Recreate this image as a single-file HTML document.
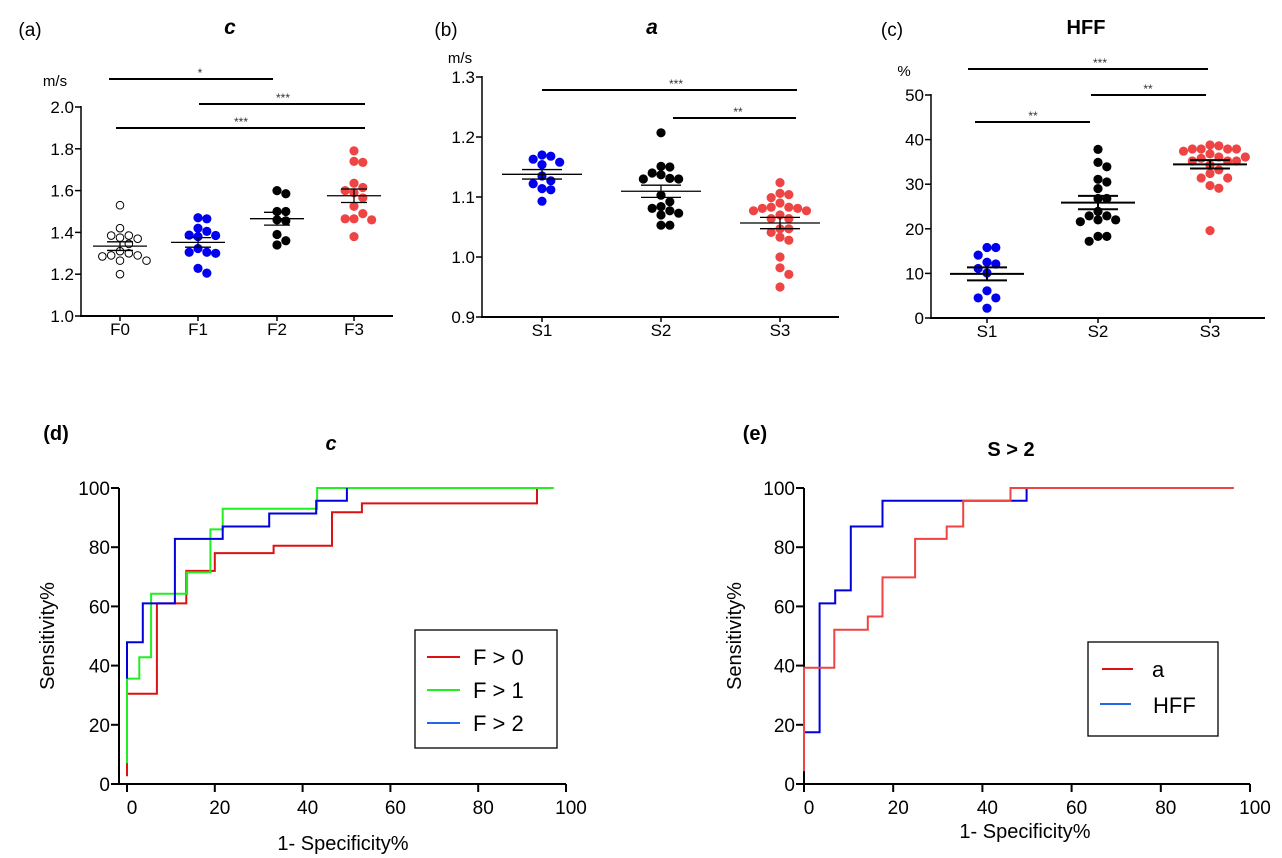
<!DOCTYPE html>
<html><head><meta charset="utf-8">
<style>
html,body{margin:0;padding:0;background:#fff;}
svg{display:block;font-family:"Liberation Sans",Arial,sans-serif;}
</style></head>
<body>
<svg id="fig" width="1282" height="858" viewBox="0 0 1282 858"></svg>
<script>
// ---------- data ----------
const catsA = ["F0","F1","F2","F3"];
const aF0 = [1.53,1.42,1.385,1.37,1.375,1.385,1.345,1.31,1.30,1.285,1.29,1.29,1.265,1.265,1.20];
const aF1 = [1.47,1.465,1.42,1.405,1.387,1.38,1.385,1.323,1.305,1.30,1.305,1.228,1.205];
const aF2 = [1.60,1.585,1.50,1.50,1.46,1.455,1.39,1.36,1.34];
const aF3 = [1.79,1.735,1.74,1.635,1.615,1.60,1.59,1.565,1.525,1.49,1.465,1.46,1.465,1.38];
const ticksA = [1.0,1.2,1.4,1.6,1.8,2.0];

const catsB = ["S1","S2","S3"];
const bS1 = [1.17,1.168,1.163,1.158,1.154,1.135,1.127,1.122,1.114,1.112,1.093];
const bS2 = [1.207,1.15,1.151,1.14,1.137,1.13,1.131,1.13,1.103,1.092,1.084,1.081,1.077,1.073,1.07,1.053,1.053];
const bS3 = [1.124,1.106,1.104,1.099,1.09,1.083,1.083,1.081,1.081,1.077,1.077,1.07,1.064,1.064,1.047,1.047,1.041,1.033,1.028,1.0,0.982,0.971,0.95];
const ticksB = [0.9,1.0,1.1,1.2,1.3];

const catsC = ["S1","S2","S3"];
const cS1 = [15.8,15.8,14.1,12.5,12.1,11.1,10.1,6.1,4.5,4.5,2.2];
const cS2 = [37.8,34.9,33.9,31.1,30.5,29,26.8,26.8,23.9,22.9,22.9,22,22,21.6,18.3,18.3,17.2];
const cS3 = [38.8,38.6,37.9,37.9,37.9,37.9,37.4,36.8,36.1,36.1,35.8,35.2,35.2,35.2,34.3,33.2,32.4,31.4,31.4,29.7,29.1,19.6];
const ticksC = [0,10,20,30,40,50];

// ROC step vertices [1-spec%, sens%]
const rocF0 = [[0,2.6],[0,30.5],[6.8,30.5],[6.8,61],[13.5,61],[13.5,72],[20,72],[20,78],[33.4,78],[33.4,80.5],[46.7,80.5],[46.7,91.8],[53.5,91.8],[53.5,94.8],[93.4,94.8],[93.4,100]];
const rocF1 = [[0,7],[0,35.6],[2.8,35.6],[2.8,42.8],[5.5,42.8],[5.5,64.3],[13.7,64.3],[13.7,71.5],[19,71.5],[19,86],[21.8,86],[21.8,93],[43.3,93],[43.3,100],[97.2,100]];
const rocF2 = [[0,35.6],[0,47.9],[3.6,47.9],[3.6,61],[10.9,61],[10.9,82.8],[21.8,82.8],[21.8,87],[32.4,87],[32.4,91.4],[43.1,91.4],[43.1,95.7],[50.1,95.7],[50.1,100]];
const rocA = [[0,4.3],[0,39.3],[6.8,39.3],[6.8,52.1],[14.3,52.1],[14.3,56.6],[17.6,56.6],[17.6,69.8],[24.9,69.8],[24.9,82.8],[32,82.8],[32,87],[35.7,87],[35.7,95.7],[46.3,95.7],[46.3,100],[96.4,100]];
const rocHFF = [[0,17.5],[3.5,17.5],[3.5,61],[7,61],[7,65.4],[10.5,65.4],[10.5,87],[17.6,87],[17.6,95.7],[49.9,95.7],[49.9,100],[46.3,100]];
const rocTicks = [0,20,40,60,80,100];

// ---------- helpers ----------
const svg = document.getElementById('fig');
const NS = "http://www.w3.org/2000/svg";
function mk(tag, attrs, parent){
  const e = document.createElementNS(NS, tag);
  for (const k in attrs) e.setAttribute(k, attrs[k]);
  (parent||svg).appendChild(e);
  return e;
}
function txt(str, x, y, size, opts, parent){
  opts = opts||{};
  const t = mk('text', {x:x, y:y, 'font-size':size, 'text-anchor':opts.anchor||'middle', fill:opts.fill||'#000'}, parent);
  if (opts.weight) t.setAttribute('font-weight', opts.weight);
  if (opts.style) t.setAttribute('font-style', opts.style);
  if (opts.transform) t.setAttribute('transform', opts.transform);
  t.textContent = str;
  return t;
}
function ln(x1,y1,x2,y2,w,col,parent){
  return mk('line',{x1:x1,y1:y1,x2:x2,y2:y2,stroke:col||'#000','stroke-width':w||1.5},parent);
}
function mean(a){return a.reduce((s,v)=>s+v,0)/a.length;}
function sem(a){const m=mean(a);const sd=Math.sqrt(a.reduce((s,v)=>s+(v-m)*(v-m),0)/(a.length-1));return sd/Math.sqrt(a.length);}
function swarm(vals, cx, yS, d){
  const placed=[];
  const order = vals.map((v,i)=>i).sort((i,j)=>vals[j]-vals[i]);
  order.forEach(i=>{
    const y=yS(vals[i]);
    let k=0, x=cx;
    while(true){
      const off = k===0?0:(k%2===1?1:-1)*Math.ceil(k/2)*d*0.92;
      x=cx+off;
      if(!placed.some(p=>Math.hypot(p.x-x,p.y-y)<d*0.85)) break;
      k++; if(k>20) break;
    }
    placed.push({x:x,y:y});
  });
  return placed;
}

function dotPanel(cfg){
  const g = mk('g',{});
  
  
  const yS = v => cfg.y0 + (v-cfg.vmin)/(cfg.vmax-cfg.vmin)*(cfg.y1-cfg.y0);
  const ya = ln(cfg.ax, cfg.y1-1, cfg.ax, cfg.y0, 1.5, '#000', g);
   
  const xa = ln(cfg.ax-1, cfg.y0, cfg.axEnd, cfg.y0, 2, '#000', g);
   
  cfg.ticks.forEach(t=>{
    const y=yS(t);
    ln(cfg.ax-6,y,cfg.ax,y,1.5,'#000',g);
    const lab = txt(cfg.fmt(t), cfg.ax-7, y+6, 17, {anchor:'end'}, g);
     
  });
  cfg.cats.forEach((c,i)=>{
    const cx=cfg.cx[i];
    ln(cx,cfg.y0,cx,cfg.y0+5,1.5,'#000',g);
    const lab = txt(c, cx, cfg.y0+19, 17, {}, g);
     
    const vals=cfg.data[i];
    const pts=swarm(vals,cx,yS,9.6);
    pts.forEach(p=>{
      let dot;
      if(cfg.colors[i]==='open'){
        dot = mk('circle',{cx:p.x,cy:p.y,r:3.8,fill:'#fff',stroke:'#000','stroke-width':1},g);
      } else {
        dot = mk('circle',{cx:p.x,cy:p.y,r:4.6,fill:cfg.colors[i]},g);
      }
      
      
    });
    const m=mean(vals), s=sem(vals);
    const ml = ln(cx-cfg.mw,yS(m),cx+cfg.mw,yS(m),cfg.lw,'#000',g);
     
    ln(cx-cfg.sw,yS(m+s),cx+cfg.sw,yS(m+s),cfg.lw,'#000',g);
    ln(cx-cfg.sw,yS(m-s),cx+cfg.sw,yS(m-s),cfg.lw,'#000',g);
    ln(cx,yS(m+s),cx,yS(m-s),cfg.lw,'#000',g);
  });
  cfg.sig.forEach(s=>{
    const l = ln(s[0],s[2],s[1],s[2],2,'#000',g);
     
    const st = txt(s[3], s[4], s[2]-2, 12, {fill:'#333'}, g);
     
  });
}

// Panel a
txt("(a)", 30, 36, 19, {});
txt("c", 230, 34, 21, {weight:'bold', style:'italic'});
txt("m/s", 55, 86, 15, {});
dotPanel({name:'panel-a', ax:81, axEnd:393, y0:316, y1:107, vmin:1.0, vmax:2.0, ticks:ticksA,
  fmt:t=>t.toFixed(1), cats:catsA, cx:[120,198,277,354], data:[aF0,aF1,aF2,aF3],
  colors:['open','#0000ee','#000','#ee4444'], mw:27, sw:13, lw:1.3,
  sig:[[109,273,79,'*',200],[199,365,104,'***',283],[116,365,128,'***',241]]});

// Panel b
txt("(b)", 446, 36, 19, {});
txt("a", 652, 34, 21, {weight:'bold', style:'italic'});
txt("m/s", 460, 63, 15, {});
dotPanel({name:'panel-b', ax:482, axEnd:839, y0:317, y1:77, vmin:0.9, vmax:1.3, ticks:ticksB,
  fmt:t=>t.toFixed(1), cats:catsB, cx:[542,661,780], data:[bS1,bS2,bS3],
  colors:['#0000ee','#000','#ee4444'], mw:40, sw:20, lw:1.3,
  sig:[[542,797,90,'***',676],[673,796,118,'**',738]]});

// Panel c
txt("(c)", 892, 36, 19, {});
txt("HFF", 1086, 34, 20, {weight:'bold'});
txt("%", 904, 76, 15, {});
dotPanel({name:'panel-c', ax:931, axEnd:1265, y0:318, y1:95, vmin:0, vmax:50, ticks:ticksC,
  fmt:t=>String(t), cats:catsC, cx:[987,1098,1210], data:[cS1,cS2,cS3],
  colors:['#0000ee','#000','#ee4444'], mw:37, sw:20, lw:2,
  sig:[[968,1208,69,'***',1100],[1091,1206,95,'**',1148],[975,1090,122,'**',1033]]});

function rocPanel(cfg){
  const g = mk('g',{});
  
  
  const xS = v => cfg.x0 + v/100*(cfg.x1-cfg.x0);
  const yS = v => cfg.y0 + v/100*(cfg.y1-cfg.y0);
  const ya = ln(cfg.ax, cfg.y1, cfg.ax, cfg.y0+1, 2, '#000', g);
   
  const xa = ln(cfg.ax-8, cfg.y0, cfg.x1, cfg.y0, 2, '#000', g);
   
  rocTicks.forEach(t=>{
    const y=yS(t);
    ln(cfg.ax-8,y,cfg.ax,y,2,'#000',g);
    const l1 = txt(String(t), cfg.ax-9, y+7, 19, {anchor:'end'}, g);
     
    const x=xS(t);
    ln(x,cfg.y0,x,cfg.y0+8,2,'#000',g);
    const l2 = txt(String(t), x+5, cfg.y0+30, 19, {}, g);
     
  });
  cfg.series.forEach(s=>{
    const d = s.pts.map((p,i)=>(i?'L':'M')+xS(p[0]).toFixed(1)+','+yS(p[1]).toFixed(1)).join(' ');
    const p = mk('path',{d:d,fill:'none',stroke:s.color,'stroke-width':2},g);
    
    
  });
  const yt = txt("Sensitivity%", 0, 0, 20, {transform:`translate(${cfg.ylx},${cfg.yly}) rotate(-90)`}, g);
   
  const xt = txt("1- Specificity%", cfg.xlx, cfg.xly, 20, {}, g);
   
  const lb = mk('rect',{x:cfg.lg[0],y:cfg.lg[1],width:cfg.lg[2],height:cfg.lg[3],fill:'#fff',stroke:'#000','stroke-width':1.3},g);
   
  cfg.series.forEach((s,i)=>{
    if(!s.label) return;
    const y=cfg.lg[1]+cfg.lgTop+i*cfg.lgStep;
    ln(cfg.lg[0]+12,y,cfg.lg[0]+45,y,2,s.lcolor||s.color,g);
    const t = txt(s.label, cfg.lg[0]+cfg.lgText, y+8, 22, {anchor:'start'}, g);
     
  });
}

txt("(d)", 56, 440, 20, {weight:'bold'});
txt("c", 331, 450, 20, {weight:'bold', style:'italic'});
rocPanel({name:'panel-d', ax:119, x0:127, x1:566, y0:784, y1:488, ylx:54, yly:636, xlx:343, xly:850,
  lg:[415,630,142,118], lgTop:27, lgStep:33, lgText:58,
  series:[{name:'roc-f-gt-0',pts:rocF0,color:'#dd1111',label:'F > 0'},
          {name:'roc-f-gt-1',pts:rocF1,color:'#22ee22',label:'F > 1'},
          {name:'roc-f-gt-2',pts:rocF2,color:'#0000dd',lcolor:'#2266ee',label:'F > 2'}]});

txt("(e)", 755, 440, 20, {weight:'bold'});
txt("S > 2", 1011, 456, 20, {weight:'bold'});
rocPanel({name:'panel-e', ax:804, x0:804, x1:1250, y0:784, y1:488, ylx:741, yly:636, xlx:1025, xly:838,
  lg:[1088,642,130,94], lgTop:27, lgStep:35, lgText:46,
  series:[{name:'roc-hff',pts:rocHFF,color:'#0000dd',lcolor:'#2266ee',label:null},
          {name:'roc-a',pts:rocA,color:'#ee4444',label:null}]});
(function(){
  const y1=642+27, y2=642+62;
  ln(1102,y1,1133,y1,2,'#dd1111');
  const t1=txt("a",1152,y1+8,22,{anchor:'start'});
   
  ln(1100,y2,1131,y2,2,'#2266ee');
  const t2=txt("HFF",1153,y2+9,22,{anchor:'start'});
   
})();
</script>
</body></html>
